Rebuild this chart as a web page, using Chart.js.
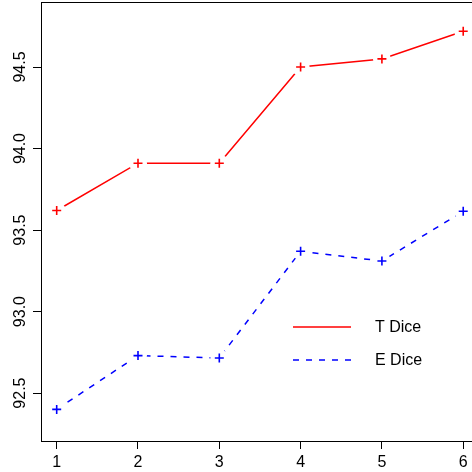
<!DOCTYPE html>
<html><head><meta charset="utf-8">
<script src="https://cdn.jsdelivr.net/npm/chart.js@4.4.1/dist/chart.umd.min.js"></script>
<style>html,body{margin:0;padding:0;background:#fff;overflow:hidden}#wrap{width:472px;height:472px}</style>
</head><body><div id="wrap"><canvas id="c" width="472" height="472"></canvas></div>
<script>
const xValues = [1, 2, 3, 4, 5, 6];
const tDice = [93.62, 93.91, 93.91, 94.50, 94.55, 94.72];
const eDice = [92.40, 92.73, 92.715, 93.37, 93.31, 93.615];
const xTicks = [1, 2, 3, 4, 5, 6];
const yTicks = [92.5, 93.0, 93.5, 94.0, 94.5];
const seriesNames = ['T Dice', 'E Dice'];

const FONT = '"Liberation Sans", Arial, Helvetica, sans-serif';
const pts = arr => xValues.map((x, i) => ({x, y: arr[i]}));

const lineDs = (label, arr, color, dash) => ({
  label, data: pts(arr), showLine: true, borderColor: color, borderWidth: 1.5, borderDash: dash,
  pointRadius: 0, fill: false, tension: 0, order: 3
});
const gapDs = (label, arr) => ({
  label: label + ' gap', data: pts(arr), showLine: false, pointStyle: 'circle',
  pointRadius: 9, pointHoverRadius: 9, backgroundColor: '#ffffff', borderColor: '#ffffff', borderWidth: 0,
  pointBackgroundColor: '#ffffff', pointBorderColor: '#ffffff', pointBorderWidth: 0, order: 2
});
const crossDs = (label, arr, color) => ({
  label: label + ' pts', data: pts(arr), showLine: false, pointStyle: 'cross',
  pointRadius: 4.5, pointBorderColor: color, pointBorderWidth: 1.6, borderColor: color, order: 1
});

const frame = {
  id: 'frame',
  afterDraw(chart) {
    const ctx = chart.ctx, a = chart.chartArea, ys = chart.scales.y;
    ctx.save();
    ctx.strokeStyle = '#000'; ctx.lineWidth = 1;
    ctx.beginPath(); ctx.moveTo(a.left, a.top + 0.5); ctx.lineTo(a.right, a.top + 0.5); ctx.stroke();
    ctx.fillStyle = '#000'; ctx.font = '16px ' + FONT;
    ctx.textAlign = 'center'; ctx.textBaseline = 'middle';
    yTicks.forEach(v => {
      const py = ys.getPixelForValue(v);
      ctx.save(); ctx.translate(21, py); ctx.rotate(-Math.PI / 2);
      ctx.fillText(v.toFixed(1), 0, 0); ctx.restore();
    });
    const items = [{c: '#ff0000', d: [], y: 327}, {c: '#0000ff', d: [6, 7], y: 360}];
    items.forEach((it, i) => {
      ctx.strokeStyle = it.c; ctx.lineWidth = 1.5; ctx.setLineDash(it.d);
      ctx.beginPath(); ctx.moveTo(293, it.y); ctx.lineTo(351, it.y); ctx.stroke();
      ctx.setLineDash([]);
      ctx.textAlign = 'left'; ctx.fillStyle = '#000';
      ctx.fillText(seriesNames[i], 375, it.y + 1);
    });
    ctx.restore();
  }
};

new Chart(document.getElementById('c'), {
  type: 'scatter',
  data: { datasets: [
    lineDs(seriesNames[0], tDice, '#ff0000', []),
    lineDs(seriesNames[1], eDice, '#0000ff', [6, 7]),
    gapDs(seriesNames[0], tDice),
    gapDs(seriesNames[1], eDice),
    crossDs(seriesNames[0], tDice, '#ff0000'),
    crossDs(seriesNames[1], eDice, '#0000ff')
  ]},
  options: {
    responsive: false, animation: false, devicePixelRatio: 1,
    layout: { autoPadding: false, padding: { top: 2, right: 0, left: 0, bottom: 0 } },
    plugins: { legend: { display: false }, tooltip: { enabled: false } },
    scales: {
      x: {
        type: 'linear', min: 0.807, max: 6.108,
        afterBuildTicks: s => { s.ticks = xTicks.map(v => ({value: v})); },
        afterFit: s => { s.height = 31; s.paddingLeft = 0; s.paddingRight = 0; },
        grid: { drawOnChartArea: false, drawTicks: true, tickLength: 8, tickColor: '#000', tickWidth: 1 },
        border: { display: true, color: '#000', width: 1 },
        ticks: { color: '#000', font: { family: FONT, size: 16 }, padding: 4, maxRotation: 0, autoSkip: false,
          callback: v => String(v) }
      },
      y: {
        type: 'linear', min: 92.206, max: 94.899,
        afterBuildTicks: s => { s.ticks = yTicks.map(v => ({value: v})); },
        afterFit: s => { s.width = 41; s.paddingTop = 0; s.paddingBottom = 0; },
        grid: { drawOnChartArea: false, drawTicks: true, tickLength: 8, tickColor: '#000', tickWidth: 1 },
        border: { display: true, color: '#000', width: 1 },
        ticks: { display: false }
      }
    }
  },
  plugins: [frame]
});
</script></body></html>
